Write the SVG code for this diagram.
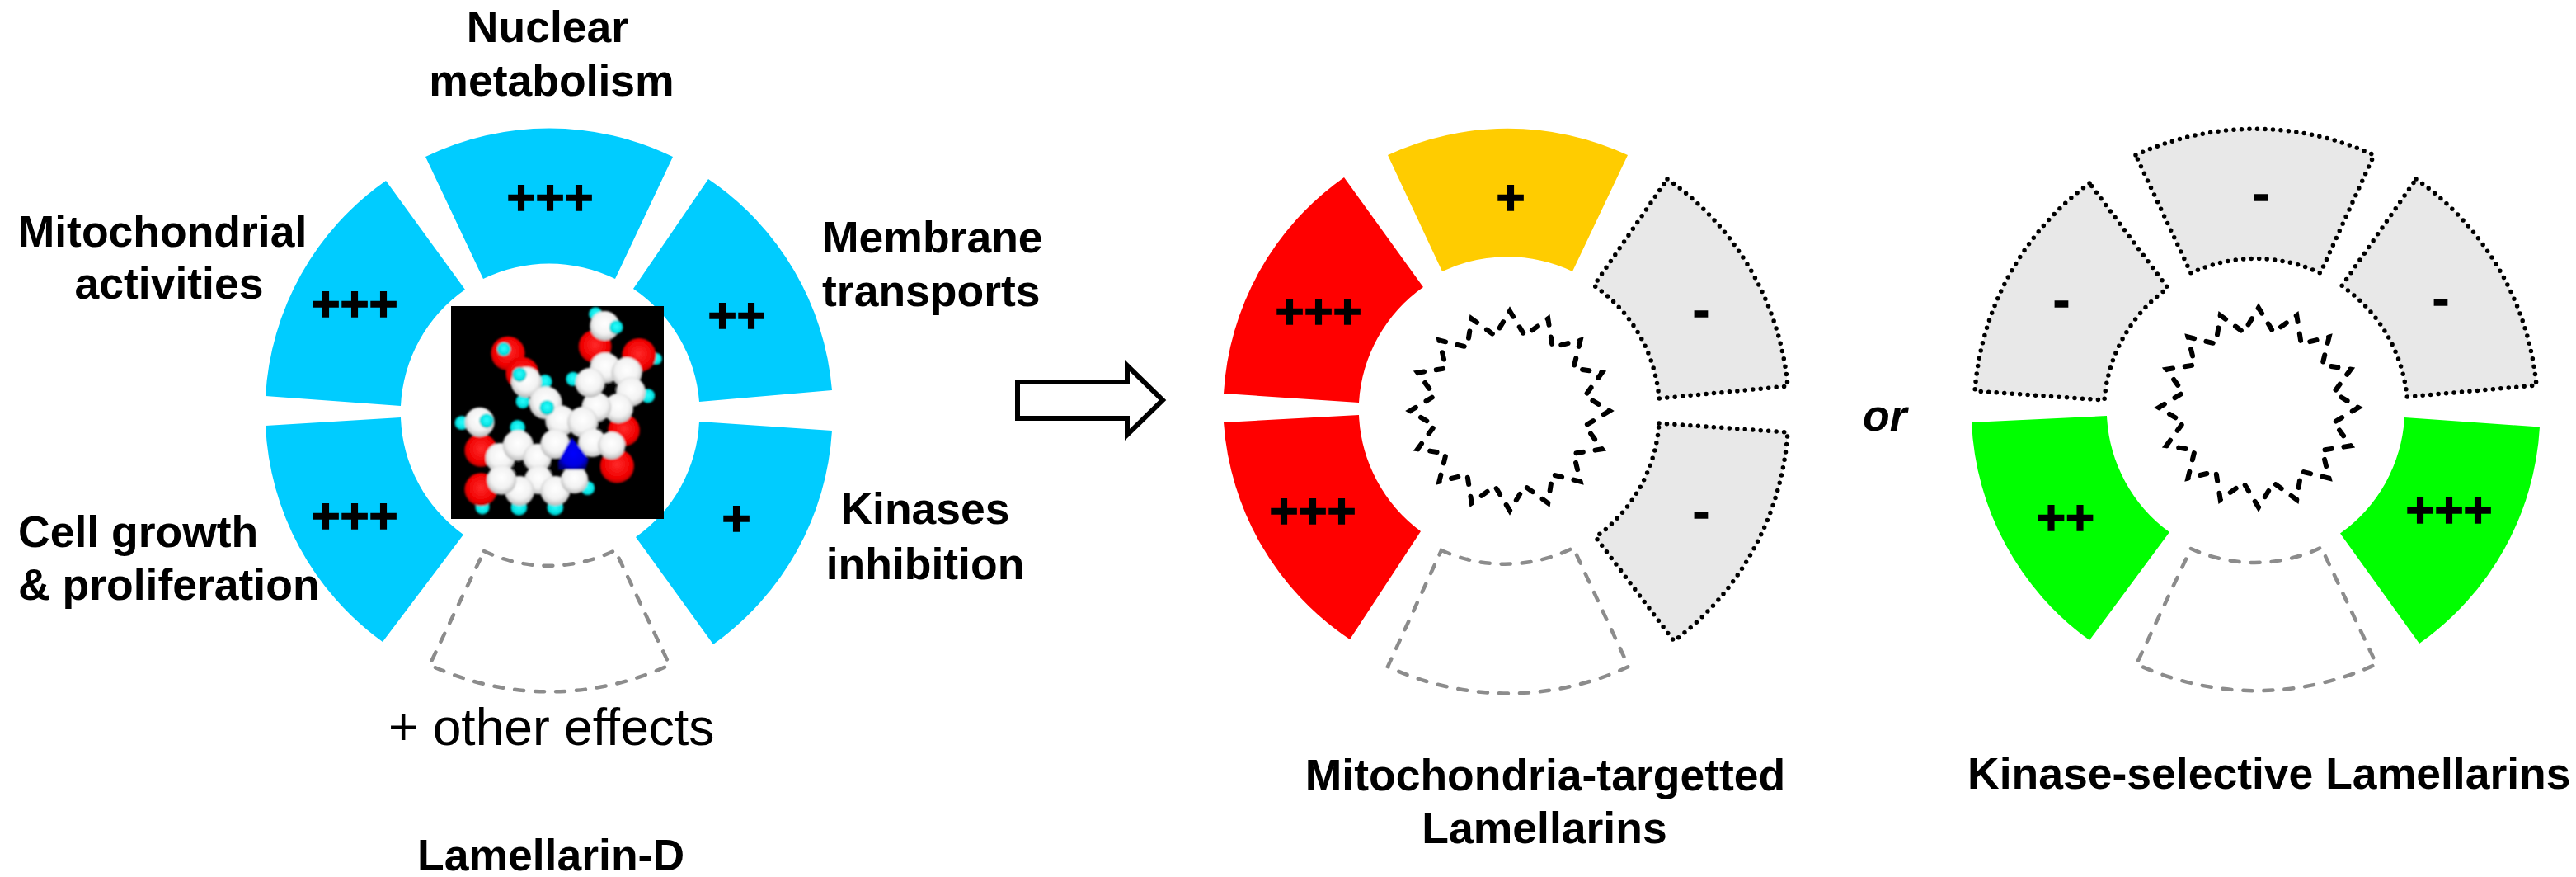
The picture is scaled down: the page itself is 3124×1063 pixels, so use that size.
<svg xmlns="http://www.w3.org/2000/svg" xmlns:xlink="http://www.w3.org/1999/xlink" width="3124" height="1063" viewBox="0 0 3124 1063">
<style>
text{font-family:"Liberation Sans",Arial,sans-serif;fill:#000}
.lb{font-weight:bold;font-size:53.5px}
.m{text-anchor:middle}
.p{font-weight:bold;font-size:60px;text-anchor:middle;stroke:#000;stroke-width:1.5px}
.c{fill:#00ccff}.r{fill:#ff0000}.y{fill:#ffcc00}.g{fill:#00ff00}
.n{fill:#e8e8e8;stroke:#000;stroke-width:5.5;stroke-linecap:round;stroke-dasharray:0 9.500}
.d{fill:none;stroke:#8c8c8c;stroke-width:4.500;stroke-linecap:round;stroke-dasharray:11 14}
.s{fill:none;stroke:#000;stroke-width:6;stroke-linecap:round;stroke-dasharray:8.500 14.750}
</style>
<defs>
<filter id="soft" x="-5%" y="-5%" width="110%" height="110%"><feGaussianBlur stdDeviation="3"/></filter>
<radialGradient id="gw" cx="50%" cy="42%" r="60%"><stop offset="0" stop-color="#fff"/><stop offset=".6" stop-color="#f2f2f2"/><stop offset=".9" stop-color="#c4c4c4"/><stop offset="1" stop-color="#a0a0a0"/></radialGradient>
<radialGradient id="gr" cx="50%" cy="45%" r="55%"><stop offset="0" stop-color="#ff2a2a"/><stop offset=".75" stop-color="#f00000"/><stop offset=".95" stop-color="#c00000"/><stop offset="1" stop-color="#800000"/></radialGradient>
<radialGradient id="gc" cx="50%" cy="45%" r="55%"><stop offset="0" stop-color="#30ffff"/><stop offset=".75" stop-color="#00e0e0"/><stop offset="1" stop-color="#00a0a0"/></radialGradient>
<radialGradient id="gb" cx="50%" cy="50%" r="55%"><stop offset="0" stop-color="#0000ff"/><stop offset=".7" stop-color="#0000e0"/><stop offset="1" stop-color="#000080"/></radialGradient>
<path id="star" class="s" d="M121,0L91.2,18.1L111.8,46.3L77.3,51.7L85.6,85.6L51.7,77.3L46.3,111.8L18.1,91.2L0,121L-18.1,91.2L-46.3,111.8L-51.7,77.3L-85.6,85.6L-77.3,51.7L-111.8,46.3L-91.2,18.1L-121,0L-91.2,-18.1L-111.8,-46.3L-77.3,-51.7L-85.6,-85.6L-51.7,-77.3L-46.3,-111.8L-18.1,-91.2L0,-121L18.1,-91.2L46.3,-111.8L51.7,-77.3L85.6,-85.6L77.3,-51.7L111.8,-46.3L91.2,-18.1Z"/>
</defs>
<rect width="3124" height="1063" fill="#fff"/>

<g id="wheel-lamellarin-d">
<g id="seg-nuclear"><path class="c" d="M516,190A343,343 0 0 1 816,190L746,338A182,182 0 0 0 586,338Z"/><text class="p" x="667" y="260">+++</text></g>
<g id="seg-mito"><path class="c" d="M468,219A343,343 0 0 0 322,480L486,492A182,182 0 0 1 564,351Z"/><text class="p" x="430" y="389">+++</text></g>
<g id="seg-growth"><path class="c" d="M322,516A343,343 0 0 0 464,778L562,648A182,182 0 0 1 486,506Z"/><text class="p" x="430" y="646">+++</text></g>
<g id="seg-membrane"><path class="c" d="M859,217A343,343 0 0 1 1009,473L848,487A182,182 0 0 0 768,350Z"/><text class="p" x="893.500" y="403">++</text></g>
<g id="seg-kinases"><path class="c" d="M848,511L1009,522A343,343 0 0 1 865,781L771,651A182,182 0 0 0 848,511Z"/><text class="p" x="893" y="649">+</text></g>
<g id="seg-other"><path class="d" d="M587,668A182,182 0 0 0 746,667L812,806A343,343 0 0 1 521,806Z"/></g>
</g>

<g id="molecule">
<rect x="547" y="371" width="258" height="258" fill="#000"/>
<g transform="translate(530 360) scale(.3333)" filter="url(#soft)">
<g fill="url(#gr)"><circle cx="258" cy="205" r="62"/><circle cx="310" cy="278" r="60"/></g>
<g fill="url(#gc)"><circle cx="577" cy="62" r="25"/><circle cx="797" cy="225" r="22"/><circle cx="767" cy="360" r="26"/><circle cx="495" cy="298" r="26"/><circle cx="90" cy="458" r="26"/><circle cx="293" cy="475" r="28"/><circle cx="165" cy="765" r="26"/><circle cx="298" cy="765" r="30"/><circle cx="430" cy="765" r="30"/><circle cx="548" cy="695" r="26"/><circle cx="393" cy="308" r="26"/><circle cx="312" cy="380" r="26"/></g>
<g fill="url(#gr)"><circle cx="575" cy="180" r="60"/><circle cx="735" cy="212" r="62"/><circle cx="680" cy="485" r="58"/><circle cx="655" cy="615" r="62"/><circle cx="160" cy="558" r="60"/><circle cx="160" cy="700" r="60"/></g>
<g fill="url(#gw)">
<circle cx="610" cy="105" r="54"/><circle cx="155" cy="455" r="54"/>
<circle cx="325" cy="310" r="56"/><circle cx="395" cy="385" r="60"/>
<circle cx="612" cy="258" r="56"/><circle cx="690" cy="275" r="56"/><circle cx="705" cy="345" r="54"/><circle cx="660" cy="405" r="54"/><circle cx="580" cy="400" r="54"/><circle cx="557" cy="312" r="54"/>
<circle cx="450" cy="450" r="56"/><circle cx="530" cy="455" r="56"/><circle cx="565" cy="530" r="52"/><circle cx="635" cy="540" r="50"/>
<circle cx="230" cy="585" r="54"/><circle cx="295" cy="540" r="56"/><circle cx="365" cy="585" r="52"/><circle cx="430" cy="535" r="54"/><circle cx="370" cy="665" r="52"/><circle cx="300" cy="705" r="54"/><circle cx="235" cy="665" r="54"/><circle cx="430" cy="705" r="54"/><circle cx="500" cy="665" r="50"/>
</g>
<path d="M490,510L552,590L540,628L445,628L440,600Z" fill="url(#gb)"/>
<g fill="url(#gc)"><circle cx="243" cy="190" r="25"/><circle cx="300" cy="282" r="26"/><circle cx="400" cy="402" r="27"/><circle cx="652" cy="110" r="25"/><circle cx="180" cy="450" r="26"/></g>
<circle cx="632" cy="330" r="17" fill="#000"/><circle cx="297" cy="622" r="19" fill="#000"/><circle cx="427" cy="622" r="17" fill="#000"/><circle cx="600" cy="468" r="16" fill="#000"/>
</g>
</g>

<g id="connectors">
<path d="M1234,463H1367V443L1410,485L1367,527V507H1234Z" fill="#fff" stroke="#000" stroke-width="6" stroke-miterlimit="10"/>
</g>

<g id="wheel-mito">
<g id="m-top"><path class="y" d="M1683,188A345,345 0 0 1 1974,188L1907,329A185,185 0 0 0 1749,329Z"/><text class="p" x="1832" y="260">+</text></g>
<g id="m-ul"><path class="r" d="M1630,215A345,345 0 0 0 1484,477L1648,488A185,185 0 0 1 1726,348Z"/><text class="p" x="1599" y="398">+++</text></g>
<g id="m-ll"><path class="r" d="M1484,512A345,345 0 0 0 1637,775L1723,644A185,185 0 0 1 1648,503Z"/><text class="p" x="1592" y="640">+++</text></g>
<g id="m-ur"><path class="n" d="M2022,217A345,345 0 0 1 2168,468L2012,483A185,185 0 0 0 1933,346Z"/><text class="p" x="2063" y="396">-</text></g>
<g id="m-lr"><path class="n" d="M2012,513L2168,524A345,345 0 0 1 2030,777L1935,651A185,185 0 0 0 2012,513Z"/><text class="p" x="2063" y="640">-</text></g>
<g id="m-bot"><path class="d" d="M1748,667A185,185 0 0 0 1908,664L1975,808A345,345 0 0 1 1683,808Z"/></g>
<use id="m-star" href="#star" xlink:href="#star" transform="translate(1831 498)"/>
</g>

<g id="wheel-kinase">
<g id="k-top"><path class="n" d="M2590,188A345,345 0 0 1 2879,188L2814,331A185,185 0 0 0 2657,331Z"/><text class="p" x="2742" y="255">-</text></g>
<g id="k-ul"><path class="n" d="M2534,222A345,345 0 0 0 2395,474L2552,485A185,185 0 0 1 2629,349Z"/><text class="p" x="2500" y="384">-</text></g>
<g id="k-ur"><path class="n" d="M2930,217A345,345 0 0 1 3076,467L2919,481A185,185 0 0 0 2840,346.500Z"/><text class="p" x="2960" y="382">-</text></g>
<g id="k-ll"><path class="g" d="M2391,512A345,345 0 0 0 2534,776L2631,645A185,185 0 0 1 2555,504Z"/><text class="p" x="2505" y="648">++</text></g>
<g id="k-lr"><path class="g" d="M2916,506L3080,517.500A345,345 0 0 1 2934,780L2838,646.500A185,185 0 0 0 2916,506Z"/><text class="p" x="2970" y="639">+++</text></g>
<g id="k-bot"><path class="d" d="M2657,665A185,185 0 0 0 2815,663.500L2882,805A345,345 0 0 1 2591,805Z"/></g>
<use id="k-star" href="#star" xlink:href="#star" transform="translate(2739 494)"/>
</g>

<g id="labels">
<text class="lb m" x="664" y="51">Nuclear</text>
<text class="lb m" x="669" y="116">metabolism</text>
<text class="lb m" x="197" y="299">Mitochondrial</text>
<text class="lb m" x="205" y="362">activities</text>
<text class="lb" x="997" y="306">Membrane</text>
<text class="lb" x="997" y="371">transports</text>
<text class="lb m" x="1122" y="635">Kinases</text>
<text class="lb m" x="1122" y="702">inhibition</text>
<text class="lb" x="22" y="663">Cell growth</text>
<text class="lb" x="22" y="727">&amp; proliferation</text>
<text x="471" y="903" font-size="62.300">+ other effects</text>
<text class="lb m" x="668" y="1055">Lamellarin-D</text>
<text class="lb m" x="1874" y="958">Mitochondria-targetted</text>
<text class="lb m" x="1873" y="1022">Lamellarins</text>
<text class="lb" x="2386" y="956">Kinase-selective Lamellarins</text>
<text x="2259" y="522" font-size="53.500" font-weight="bold" font-style="italic">or</text>
</g>
</svg>
